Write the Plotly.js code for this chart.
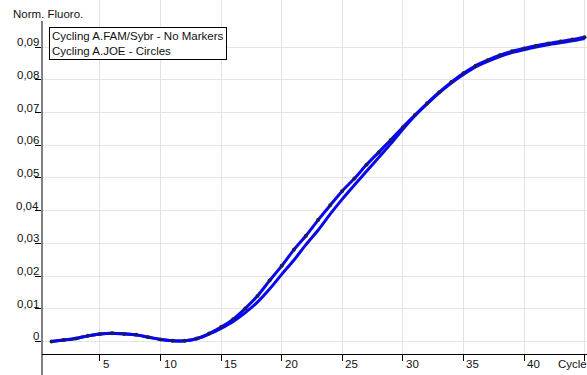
<!DOCTYPE html>
<html>
<head>
<meta charset="utf-8">
<script src="https://cdn.plot.ly/plotly-3.0.1.min.js"></script>
<style>
html,body{margin:0;padding:0;background:#fff;overflow:hidden;}
#chart{width:587px;height:375px;}
</style>
</head>
<body>
<div id="chart"></div>
<script>
const cycles = [1,2,3,4,5,6,7,8,9,10,11,12,13,14,15,16,17,18,19,20,21,22,23,24,25,26,27,28,29,30,31,32,33,34,35,36,37,38,39,40,41,42,43,44,45];
const joeValues = [0.0000,0.0004,0.0009,0.0017,0.0023,0.0025,0.0023,0.0020,0.0013,0.0006,0.0002,0.0002,0.0009,0.0024,0.0044,0.0068,0.0101,0.0139,0.0186,0.0231,0.0280,0.0323,0.0371,0.0416,0.0460,0.0498,0.0540,0.0578,0.0616,0.0655,0.0692,0.0728,0.0762,0.0793,0.0820,0.0843,0.0860,0.0875,0.0887,0.0896,0.0904,0.0911,0.0917,0.0923,0.0930];
const famValues = [0.0000,0.0004,0.0009,0.0017,0.0023,0.0025,0.0023,0.0020,0.0013,0.0006,0.0002,0.0002,0.0008,0.0022,0.0040,0.0061,0.0088,0.0120,0.0160,0.0205,0.0248,0.0296,0.0340,0.0389,0.0435,0.0478,0.0520,0.0562,0.0604,0.0649,0.0690,0.0726,0.0760,0.0790,0.0816,0.0839,0.0856,0.0871,0.0883,0.0892,0.0900,0.0907,0.0913,0.0919,0.0926];
const xTickVals = [5,10,15,20,25,30,35,40,45];
const xTickLabels = ['5','10','15','20','25','30','35','40',''];
const yTickVals = [0,0.01,0.02,0.03,0.04,0.05,0.06,0.07,0.08,0.09];
const yTickLabels = ['0','0,01','0,02','0,03','0,04','0,05','0,06','0,07','0,08','0,09'];
const seriesNames = ['Cycling A.FAM/Sybr - No Markers','Cycling A.JOE - Circles'];
const yTitle = 'Norm. Fluoro.';
const xTitle = 'Cycle';

const FONT = 'Liberation Sans, Arial, sans-serif';
const FS = 11.5;
const W = 587, H = 375;
const mL = 42, mR = 0, mT = 0, mB = 21;
const pw = W - mL - mR, ph = H - mT - mB;
const px = v => (v - mL) / pw;       // pixel x -> paper
const py = v => (ph + mT - v) / ph;  // pixel y -> paper

const traces = [
  {x: cycles, y: famValues, mode: 'lines', name: seriesNames[0],
   line: {color: '#0808ea', width: 3, shape: 'spline', smoothing: 0.8}, hoverinfo: 'skip'},
  {x: cycles, y: joeValues, mode: 'lines+markers', name: seriesNames[1],
   line: {color: '#0808ea', width: 3, shape: 'spline', smoothing: 0.8},
   marker: {color: '#1c1c5a', size: 4}, hoverinfo: 'skip'}
];

const annotations = [];
xTickVals.forEach((v, i) => {
  if (!xTickLabels[i]) return;
  annotations.push({xref: 'x', yref: 'paper', x: v, y: 0, text: xTickLabels[i],
    xanchor: 'left', yanchor: 'middle', xshift: 1, yshift: -10, showarrow: false,
    font: {family: FONT, size: FS, color: '#111'}});
});
yTickVals.forEach((v, i) => {
  annotations.push({xref: 'paper', yref: 'y', x: 0, y: v, text: yTickLabels[i],
    xanchor: 'right', yanchor: 'middle', xshift: -1, yshift: 5, showarrow: false,
    font: {family: FONT, size: FS, color: '#111'}});
});
annotations.push({xref: 'paper', yref: 'paper', x: px(11), y: py(14), text: yTitle,
  xanchor: 'left', yanchor: 'middle', showarrow: false,
  font: {family: FONT, size: FS, color: '#111'}});
annotations.push({xref: 'paper', yref: 'paper', x: px(556), y: 0, yshift: -10, text: xTitle,
  xanchor: 'left', yanchor: 'middle', showarrow: false,
  font: {family: FONT, size: FS, color: '#111'}});
annotations.push({xref: 'paper', yref: 'paper', x: px(49), y: py(27), text: seriesNames.join('<br>'),
  xanchor: 'left', yanchor: 'top', align: 'left', showarrow: false,
  bgcolor: '#fff', bordercolor: '#000', borderwidth: 1, borderpad: 2,
  font: {family: FONT, size: FS, color: '#111'}});

const layout = {
  width: W, height: H,
  margin: {l: mL, r: mR, t: mT, b: mB, pad: 0},
  paper_bgcolor: '#fff', plot_bgcolor: '#fff',
  showlegend: false,
  font: {family: FONT, size: FS, color: '#111'},
  xaxis: {range: [0.215, 45.2], tickvals: xTickVals, ticktext: xTickVals.map(() => ''),
    ticks: 'outside', ticklen: 6, tickcolor: '#000', tickwidth: 1,
    showgrid: true, gridcolor: '#e4e4e4', gridwidth: 1,
    showline: true, linecolor: '#000', linewidth: 1, zeroline: false, fixedrange: true},
  yaxis: {range: [-0.00385, 0.1044], tickvals: yTickVals, ticktext: yTickVals.map(() => ''),
    ticks: 'outside', ticklen: 6, tickcolor: '#000', tickwidth: 1,
    showgrid: true, gridcolor: '#e4e4e4', gridwidth: 1,
    showline: false, zeroline: false, fixedrange: true},
  shapes: [
    {type: 'line', xref: 'paper', yref: 'paper', x0: 0, x1: 0, y0: py(375), y1: py(21),
     line: {color: '#000', width: 1}}
  ],
  annotations: annotations
};

Plotly.newPlot('chart', traces, layout, {staticPlot: true, displayModeBar: false});
</script>
</body>
</html>
